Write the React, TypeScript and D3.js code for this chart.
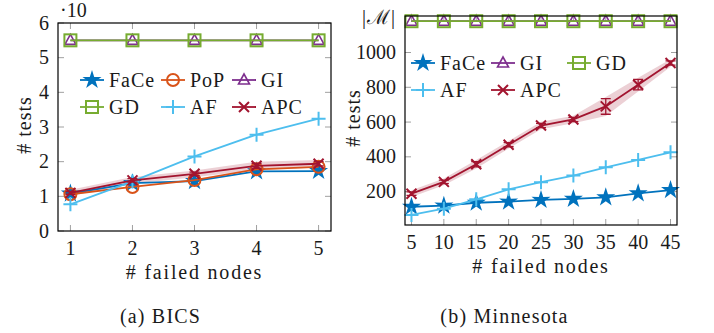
import React from 'react';
import * as d3 from 'd3';

// BICS panel (values in units of 10)
const bicsNodes = [1, 2, 3, 4, 5];
const bicsFaCe = [1.08, 1.38, 1.44, 1.72, 1.73];
const bicsPoP = [1.06, 1.27, 1.47, 1.78, 1.85];
const bicsGI = [5.5, 5.5, 5.5, 5.5, 5.5];
const bicsGD = [5.5, 5.5, 5.5, 5.5, 5.5];
const bicsAF = [0.77, 1.43, 2.15, 2.78, 3.24];
const bicsAPC = [1.1, 1.46, 1.65, 1.88, 1.94];
const bicsAPCErr = [0.04, 0.05, 0.05, 0.07, 0.06];
const bicsYTicks = [0, 1, 2, 3, 4, 5, 6];

// Minnesota panel
const minnNodes = [5, 10, 15, 20, 25, 30, 35, 40, 45];
const minnFaCe = [113, 119, 136, 142, 152, 158, 167, 190, 209];
const minnGI = [1180, 1180, 1180, 1180, 1180, 1180, 1180, 1180, 1180];
const minnGD = [1180, 1180, 1180, 1180, 1180, 1180, 1180, 1180, 1180];
const minnAF = [66, 102, 156, 213, 254, 292, 340, 382, 426];
const minnAPC = [188, 256, 357, 470, 580, 615, 690, 815, 940];
const minnAPCErr = [10, 10, 15, 12, 12, 12, 45, 30, 12];
const minnYTicks = [200, 400, 600, 800, 1000];
const minnTopTick = 1200;
const minnTopLabel = '|ℳ|';

const colors: Record<string, string> = {
  FaCe: '#0072BD',
  PoP: '#D95319',
  GI: '#7E2F8E',
  GD: '#77AC30',
  AF: '#4DBEEE',
  APC: '#A2142F',
};

const serif = (spacing = 0) => ({ fontFamily: '"Liberation Serif"', letterSpacing: spacing });
const FS = 20;
const DY = '0.33em';

// thin five-pointed star
const starPath = (r: number) => {
  const pts = d3.range(10).map(i => {
    const rr = i % 2 === 0 ? r : r * 0.38;
    const a = (i * Math.PI) / 5 - Math.PI / 2;
    return [rr * Math.cos(a), rr * Math.sin(a)];
  });
  return 'M' + pts.map(p => p.join(',')).join('L') + 'Z';
};

const Marker = ({ name, cx, cy }: { name: string; cx: number; cy: number }) => {
  const c = colors[name];
  let shape = null;
  if (name === 'FaCe') shape = <path d={starPath(10)} fill={c} />;
  else if (name === 'PoP') shape = <circle r={6} fill="none" stroke={c} strokeWidth={2} />;
  else if (name === 'GI') shape = <path d="M0,-6L5.5,4L-5.5,4Z" fill="none" stroke={c} strokeWidth={1.6} />;
  else if (name === 'GD') shape = <rect x={-6} y={-6} width={12} height={12} fill="none" stroke={c} strokeWidth={2} />;
  else if (name === 'AF') shape = <path d="M-7,0L7,0M0,-7L0,7" stroke={c} strokeWidth={2} />;
  else if (name === 'APC') shape = <path d="M-5,-5L5,5M-5,5L5,-5" stroke={c} strokeWidth={2} />;
  return <g transform={`translate(${cx},${cy})`}>{shape}</g>;
};

const Panel = ({ box, xDomain, yDomain, nodes, series, err, yTicks, topTick, topLabel }: any) => {
  const x = d3.scaleLinear().domain(xDomain).range([box.left, box.right]);
  const y = d3.scaleLinear().domain(yDomain).range([box.bottom, box.top]);
  const line = d3.line<number>().x((_, i) => x(nodes[i])).y(d => y(d));
  const pad = (yDomain[1] - yDomain[0]) * 0.008;
  const band = d3.area<number>()
    .x((_, i) => x(nodes[i]))
    .y0((d, i) => y(d - err[i] - pad))
    .y1((d, i) => y(d + err[i] + pad));
  const apc = series.find((s: any) => s.name === 'APC');
  const tickColor = '#a0a0a0';

  return (
    <g>
      {nodes.map((t: number) => (
        <g key={'x' + t}>
          <line x1={x(t)} x2={x(t)} y1={box.bottom} y2={box.bottom - 6} stroke={tickColor} />
          <line x1={x(t)} x2={x(t)} y1={box.top} y2={box.top + 6} stroke={tickColor} />
          <text x={x(t)} y={box.bottom + 17} dy={DY} textAnchor="middle" fontSize={FS} fill="#1a1a1a" style={serif()}>{t}</text>
        </g>
      ))}
      {yTicks.map((t: number) => (
        <g key={'y' + t}>
          <line x1={box.left} x2={box.left + 6} y1={y(t)} y2={y(t)} stroke={tickColor} />
          <line x1={box.right} x2={box.right - 6} y1={y(t)} y2={y(t)} stroke={tickColor} />
          <text x={box.left - 9} y={y(t)} dy={DY} textAnchor="end" fontSize={FS} fill="#1a1a1a" style={serif()}>{t}</text>
        </g>
      ))}
      {topLabel ? (
        <text x={box.left - 9} y={y(topTick)} dy={DY} textAnchor="end" fontSize={FS} fill="#1a1a1a" style={serif(1)}>{topLabel}</text>
      ) : null}

      <path d={band(apc.values) || ''} fill={colors.APC} opacity={0.2} />

      {series.map((s: any) => (
        <g key={s.name}>
          <path d={line(s.values) || ''} fill="none" stroke={colors[s.name]} strokeWidth={1.8} />
          {s.name === 'APC' ? s.values.map((v: number, i: number) => {
            const cx = x(nodes[i]);
            const lo = y(v - err[i]);
            const hi = y(v + err[i]);
            return (
              <path key={'e' + i} d={`M${cx},${lo}L${cx},${hi}M${cx - 5},${lo}L${cx + 5},${lo}M${cx - 5},${hi}L${cx + 5},${hi}`}
                stroke={colors.APC} strokeWidth={1.3} fill="none" />
            );
          }) : null}
          {s.values.map((v: number, i: number) => <Marker key={i} name={s.name} cx={x(nodes[i])} cy={y(v)} />)}
        </g>
      ))}

      <rect x={box.left} y={box.top} width={box.right - box.left} height={box.bottom - box.top}
        fill="none" stroke="#000" strokeWidth={1.2} />
    </g>
  );
};

const Legend = ({ items }: { items: any[] }) => (
  <g>
    {items.map(it => (
      <g key={it.name}>
        <line x1={it.x} x2={it.x + 24} y1={it.y} y2={it.y} stroke={colors[it.name]} strokeWidth={1.8} />
        <Marker name={it.name} cx={it.x + 12} cy={it.y} />
        <text x={it.x + 29} y={it.y} dy={DY} fontSize={FS} fill="#1a1a1a" style={serif(1)}>{it.name}</text>
      </g>
    ))}
  </g>
);

const Label = ({ txt, x, y, rotate = false, anchor = 'middle', spacing = 1 }: any) => (
  <text transform={`translate(${x},${y})${rotate ? ' rotate(-90)' : ''}`} dy={DY} textAnchor={anchor}
    fontSize={FS} fill="#1a1a1a" style={serif(spacing)}>{txt}</text>
);

const App = () => (
  <div style={{ position: 'absolute', left: 0, top: 0 }}>
    <svg width={714} height={333} style={{ display: 'block', background: '#fff' }}>
      <Panel
        box={{ left: 58, right: 331, top: 23, bottom: 231 }}
        xDomain={[0.8, 5.2]}
        yDomain={[0, 6]}
        nodes={bicsNodes}
        err={bicsAPCErr}
        yTicks={bicsYTicks}
        series={[
          { name: 'FaCe', values: bicsFaCe },
          { name: 'PoP', values: bicsPoP },
          { name: 'GI', values: bicsGI },
          { name: 'GD', values: bicsGD },
          { name: 'AF', values: bicsAF },
          { name: 'APC', values: bicsAPC },
        ]}
      />
      <Panel
        box={{ left: 405, right: 677, top: 16, bottom: 225 }}
        xDomain={[4, 46]}
        yDomain={[8, 1210]}
        nodes={minnNodes}
        err={minnAPCErr}
        yTicks={minnYTicks}
        topTick={minnTopTick}
        topLabel={minnTopLabel}
        series={[
          { name: 'FaCe', values: minnFaCe },
          { name: 'GI', values: minnGI },
          { name: 'GD', values: minnGD },
          { name: 'AF', values: minnAF },
          { name: 'APC', values: minnAPC },
        ]}
      />
      <Legend items={[
        { name: 'FaCe', x: 80, y: 80 },
        { name: 'PoP', x: 161, y: 80 },
        { name: 'GI', x: 232, y: 80 },
        { name: 'GD', x: 80, y: 107 },
        { name: 'AF', x: 161, y: 107 },
        { name: 'APC', x: 232, y: 107 },
      ]} />
      <Legend items={[
        { name: 'FaCe', x: 411, y: 63 },
        { name: 'GI', x: 491, y: 63 },
        { name: 'GD', x: 567, y: 63 },
        { name: 'AF', x: 411, y: 90 },
        { name: 'APC', x: 491, y: 90 },
      ]} />
      <Label txt="·10" x={60} y={10} anchor="start" spacing={0} />
      <Label txt="# tests" x={24} y={125} rotate />
      <Label txt="# tests" x={353} y={118} rotate />
      <Label txt="# failed nodes" x={194.5} y={272} spacing={1.8} />
      <Label txt="# failed nodes" x={541} y={266} spacing={1.8} />
      <Label txt="(a) BICS" x={160.5} y={316} spacing={1.2} />
      <Label txt="(b) Minnesota" x={504.5} y={316} spacing={1.2} />
    </svg>
  </div>
);

export default App;
